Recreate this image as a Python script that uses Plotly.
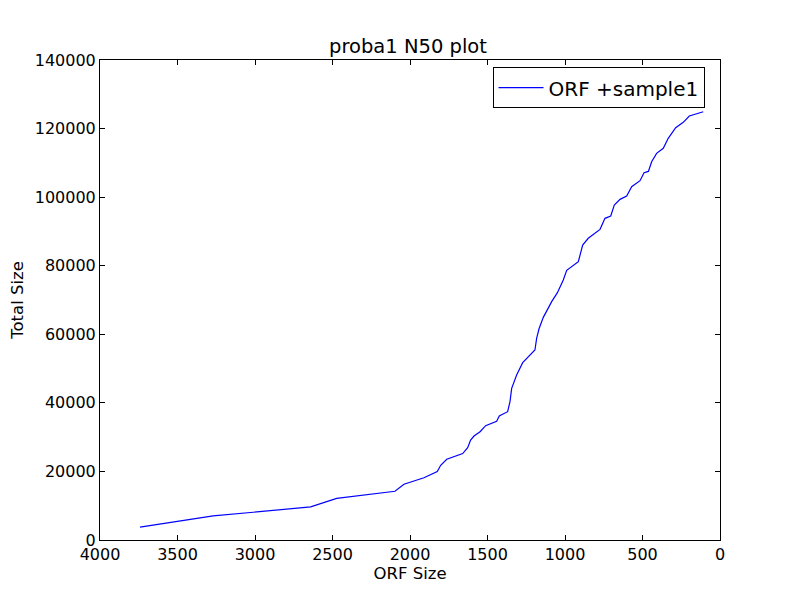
import plotly.graph_objects as go

orf_size = [3742, 3270, 2641, 2473, 2097, 2039, 1910, 1824, 1802, 1763, 1660, 1628,
            1609, 1587, 1548, 1512, 1441, 1424, 1370, 1355, 1344, 1312, 1273, 1194,
            1183, 1168, 1140, 1086, 1049, 1011, 989, 914, 886, 850, 774, 742, 705,
            682, 645, 602, 570, 516, 490, 462, 441, 409, 366, 334, 286, 237, 198,
            150, 108]
total_size = [3742, 7012, 9653, 12126, 14223, 16262, 18172, 19996, 21798, 23561,
              25221, 26930, 29170, 30330, 31590, 33340, 34610, 36160, 37430, 40350,
              44240, 48130, 51720, 55410, 58820, 61540, 64940, 69520, 72140, 75830,
              78650, 81180, 86040, 88000, 90600, 93820, 94500, 97700, 99360, 100330,
              103050, 104800, 107130, 107500, 110340, 112770, 114230, 117150, 120260,
              121820, 123660, 124440, 124920]

fig = go.Figure()
fig.add_trace(go.Scatter(x=orf_size, y=total_size, mode="lines",
                         line=dict(color="#0000ff", width=1.2),
                         name="ORF +sample1"))

font = dict(family="DejaVu Sans", size=16, color="black")
axis_common = dict(showgrid=False, zeroline=False, showline=True, linecolor="black",
                   linewidth=1, mirror="ticks", ticks="inside", ticklen=5,
                   tickcolor="black", automargin=False,
                   tickfont=dict(family="DejaVu Sans", size=16, color="black"))
fig.update_layout(
    width=800, height=600,
    paper_bgcolor="white", plot_bgcolor="white",
    margin=dict(l=92, r=88, t=52, b=68),
    font=font,
    title=dict(text="proba1 N50 plot", x=0.5, xanchor="center", y=0.925,
               yanchor="bottom", font=dict(family="DejaVu Sans", size=19.5, color="black")),
    xaxis=dict(range=[4000, 0], dtick=500, tick0=0,
               title=dict(text="ORF Size", standoff=0, font=dict(size=16.5)),
               **axis_common),
    yaxis=dict(range=[0, 140000], dtick=20000, tick0=0, tickformat="d",
               title=dict(text="Total Size", standoff=6, font=dict(size=16.5)),
               **axis_common),
    legend=dict(x=0.975, y=0.985, xanchor="right", yanchor="top",
                bordercolor="black", borderwidth=1, bgcolor="white",
                itemwidth=45,
                font=dict(family="DejaVu Sans", size=20, color="black")),
    showlegend=True,
)
fig.write_html("out.html")
